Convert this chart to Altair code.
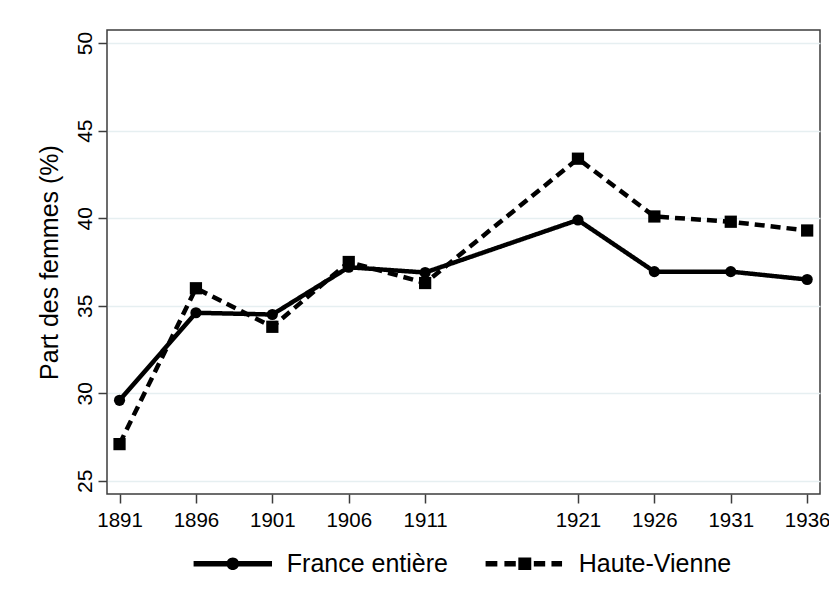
import altair as alt
import pandas as pd

years = [1891, 1896, 1901, 1906, 1911, 1921, 1926, 1931, 1936]
france = [29.6, 34.6, 34.5, 37.2, 36.9, 39.9, 36.95, 36.95, 36.5]
haute_vienne = [27.1, 36.0, 33.8, 37.5, 36.3, 43.4, 40.1, 39.8, 39.3]
series = ["France entière", "Haute-Vienne"]
y_ticks = [25, 30, 35, 40, 45, 50]

df = pd.DataFrame({
    "annee": years * 2,
    "part": france + haute_vienne,
    "serie": [series[0]] * len(years) + [series[1]] * len(years),
})

FONT = "Liberation Sans"
FRAME = "#3c3c3c"

# legend symbols: line + marker drawn as one custom path (unit coords)
path_fr = ("M-1,-0.068L1,-0.068L1,0.068L-1,0.068Z "
           "M-0.162,0A0.162,0.162 0 1,1 0.162,0A0.162,0.162 0 1,1 -0.162,0Z")
path_hv = ("M-1,-0.068L-0.7,-0.068L-0.7,0.068L-1,0.068Z "
           "M-0.52,-0.068L-0.23,-0.068L-0.23,0.068L-0.52,0.068Z "
           "M-0.165,-0.16L0.165,-0.16L0.165,0.16L-0.165,0.16Z "
           "M0.23,-0.068L0.52,-0.068L0.52,0.068L0.23,0.068Z "
           "M0.68,-0.068L0.95,-0.068L0.95,0.068L0.68,0.068Z")

x_enc = alt.X(
    "annee:Q",
    scale=alt.Scale(domain=[1890.18, 1936.84], nice=False, zero=False),
    axis=alt.Axis(values=years, format="d", title=None, grid=False,
                  tickSize=9, labelPadding=23.5, labelBaseline="alphabetic",
                  labelFontSize=20.5, labelFlush=False, labelOverlap=False,
                  domain=False),
)
y_enc = alt.Y(
    "part:Q",
    scale=alt.Scale(domain=[24.25, 50.75], nice=False, zero=False),
    axis=alt.Axis(values=y_ticks, title="Part des femmes (%)", grid=True,
                  gridColor="#e6eff1", gridWidth=1.5,
                  tickSize=9, labelPadding=6.3, labelAngle=-90,
                  labelAlign="center", labelBaseline="alphabetic",
                  labelFontSize=21, domain=False,
                  titleFontSize=25, titleFontWeight="normal",
                  titleAngle=270, titleAlign="center",
                  titleBaseline="alphabetic", titleX=-49.5, titleY=232),
)

base = alt.Chart(df)

lines = base.mark_line(strokeWidth=4.5, color="black").encode(
    x=x_enc, y=y_enc,
    strokeDash=alt.StrokeDash("serie:N",
                              scale=alt.Scale(domain=series, range=[[1, 0], [10, 6]]),
                              legend=None),
)

points = base.mark_point(filled=True, color="black", opacity=1).encode(
    x=x_enc, y=y_enc,
    shape=alt.Shape("serie:N",
                    scale=alt.Scale(domain=series, range=["circle", "square"]),
                    legend=None),
    size=alt.Size("serie:N", scale=alt.Scale(domain=series, range=[125, 150]),
                  legend=None),
)

legend_layer = base.mark_point(filled=True, color="black", opacity=0).encode(
    x=x_enc, y=y_enc,
    shape=alt.Shape("serie:N",
                    scale=alt.Scale(domain=series, range=[path_fr, path_hv]),
                    legend=alt.Legend(orient="none", legendX=86.3, legendY=494,
                                      direction="horizontal", title=None,
                                      symbolSize=6150, labelFontSize=25,
                                      labelFont=FONT, labelColor="black",
                                      labelOffset=14.5, columnPadding=37,
                                      symbolOpacity=1, symbolFillColor="black",
                                      symbolStrokeWidth=0, padding=0,
                                      labelLimit=400)),
)

chart = (
    alt.layer(lines, points, legend_layer)
    .resolve_scale(shape="independent", size="independent")
    .properties(
        width=713, height=464,
        autosize=alt.AutoSizeParams(type="none"),
        padding={"left": 99, "top": 22, "right": 9, "bottom": 100},
        background="white",
    )
    .configure(font=FONT)
    .configure_view(stroke=FRAME, strokeWidth=1.5)
    .configure_axis(labelColor="black", titleColor="black", tickColor=FRAME,
                    tickWidth=1.5, labelFont=FONT, titleFont=FONT)
)

chart.save("out.html", embed_options={"renderer": "svg", "actions": False})
